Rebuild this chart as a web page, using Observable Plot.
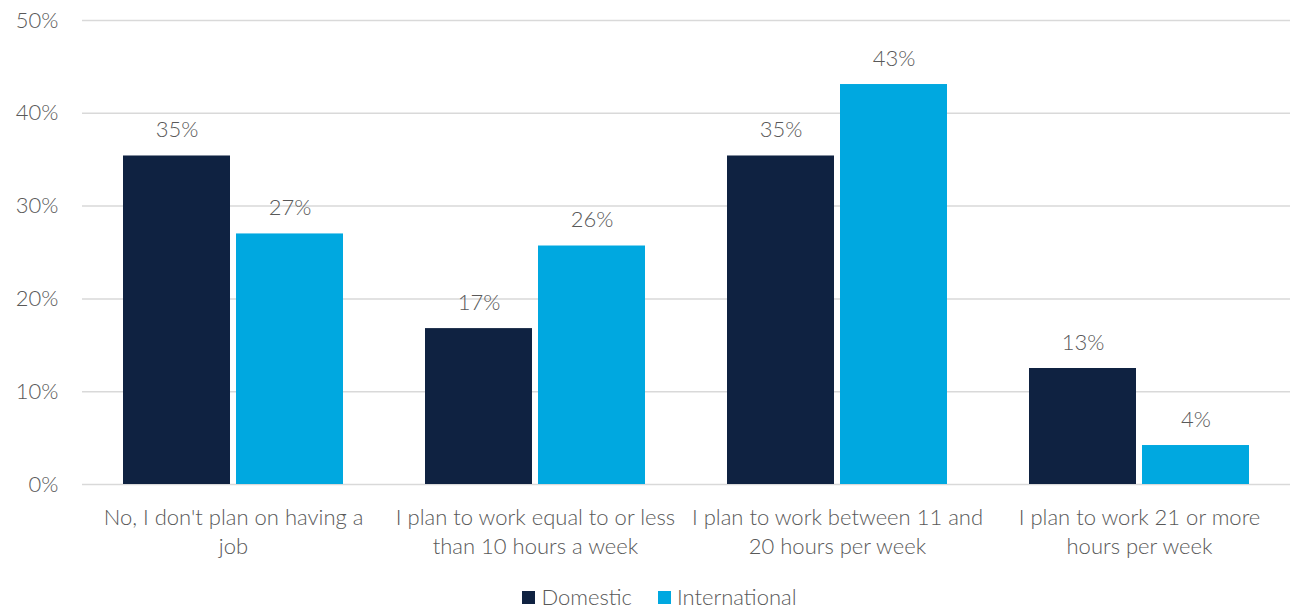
<!DOCTYPE html>
<html>
<head>
<meta charset="utf-8">
<script src="https://cdn.jsdelivr.net/npm/d3@7"></script>
<script src="https://cdn.jsdelivr.net/npm/@observablehq/plot@0.6"></script>
<style>
  body { margin: 0; background: #fff; font-family: Lato, "Open Sans", sans-serif; }
  #chart { width: 1291px; }
  svg text { font-weight: 300; }
  .legend { display: flex; justify-content: center; gap: 26px; font-size: 22px; font-weight: 300; color: #595959; margin-top: 13px; margin-left: 28px; line-height: 24px; }
  .legend span.sw { display: inline-block; width: 13px; height: 13px; margin-right: 6px; vertical-align: 1px; }
</style>
</head>
<body>
<div id="chart"></div>
<script>
const categories = [
  "No, I don't plan on having a job",
  "I plan to work equal to or less than 10 hours a week",
  "I plan to work between 11 and 20 hours per week",
  "I plan to work 21 or more hours per week"
];
const categoryLabels = [
  "No, I don't plan on having a\njob",
  "I plan to work equal to or less\nthan 10 hours a week",
  "I plan to work between 11 and\n20 hours per week",
  "I plan to work 21 or more\nhours per week"
];
const series = ["Domestic", "International"];
const colors = ["#0f2241", "#00a8e0"];
const domestic = [35.4, 16.8, 35.4, 12.5];
const international = [27.0, 25.7, 43.1, 4.2];
const yTicks = [0, 10, 20, 30, 40, 50];

const data = [];
categories.forEach((c, i) => {
  data.push({category: c, series: series[0], value: domestic[i]});
  data.push({category: c, series: series[1], value: international[i]});
});

const labelOf = new Map(categories.map((c, i) => [c, categoryLabels[i]]));

const plot = Plot.plot({
  width: 1291,
  height: 572,
  marginLeft: 82,
  marginRight: 1,
  marginTop: 20,
  marginBottom: 88,
  style: {fontFamily: "Lato, 'Open Sans', sans-serif", fontSize: "22px", color: "#595959", background: "#fff"},
  fx: {domain: categories, padding: 0, label: null},
  x: {domain: series, paddingInner: 0.0526, paddingOuter: 0.351, axis: null},
  y: {domain: [0, 50], label: null},
  color: {domain: series, range: colors},
  marks: [
    Plot.gridY(yTicks, {stroke: "#d9d9d9", strokeOpacity: 1, strokeWidth: 1.5}),
    Plot.axisY(yTicks, {tickSize: 0, tickPadding: 24, tickFormat: d => d + "%", fill: "#595959", fontSize: 22, label: null}),
    Plot.axisFx({anchor: "bottom", tickSize: 0, tickPadding: 20, tickFormat: d => labelOf.get(d), lineHeight: 1.32, fill: "#595959", fontSize: 22, label: null}),
    Plot.barY(data, {fx: "category", x: "series", y: "value", fill: "series"}),
    Plot.text(data, {fx: "category", x: "series", y: "value", text: d => Math.round(d.value) + "%", dy: -26, fill: "#595959", fontSize: 22})
  ]
});
document.getElementById("chart").appendChild(plot);

const legend = document.createElement("div");
legend.className = "legend";
series.forEach((s, i) => {
  const item = document.createElement("div");
  item.innerHTML = `<span class="sw" style="background:${colors[i]}"></span>${s}`;
  legend.appendChild(item);
});
document.getElementById("chart").appendChild(legend);
</script>
</body>
</html>
